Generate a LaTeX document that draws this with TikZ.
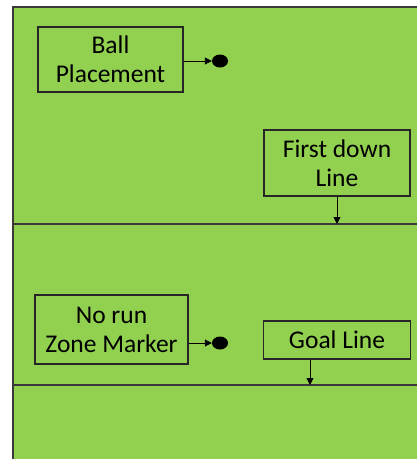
\documentclass[tikz,border=0pt]{standalone}
\usepackage{fontspec}
\setmainfont{Carlito}
\usetikzlibrary{arrows.meta,shapes.geometric}
\definecolor{turf}{HTML}{92D050}
\definecolor{edge}{HTML}{3A3A3A}
\begin{document}
\begin{tikzpicture}[x=1pt,y=-1pt,
  label box/.style={draw=black!85,line width=1.2pt,fill=turf,inner sep=0pt,
    align=center,font=\fontsize{25.5}{29}\selectfont,text=black},
  pointer/.style={draw=black,line width=0.9pt,-{Triangle[length=7pt,width=7pt]}},
  marker/.style={ellipse,fill=black,minimum width=16pt,minimum height=13pt,inner sep=0pt},
  field line/.style={draw=edge,line width=1.1pt}]
\useasboundingbox (0,0) rectangle (417,459);
% playing field
\fill[turf] (13,7) rectangle (417,459);
\draw[field line] (417,7) -- (13,7) -- (13,459);
\coordinate (fdL) at (13,224);
\coordinate (fdR) at (417,224);
\coordinate (glL) at (13,385);
\coordinate (glR) at (417,385);
\draw[field line] (fdL) -- (fdR);
\draw[field line] (glL) -- (glR);
% labels
\node[label box,minimum width=145pt,minimum height=65pt] (ball) at (110.5,59.5) {Ball\\Placement};
\node[label box,minimum width=146pt,minimum height=66pt] (first) at (337,163) {First down\\Line};
\node[label box,minimum width=153pt,minimum height=69pt] (norun) at (111.5,329.5) {No run\\Zone Marker};
\node[label box,minimum width=147pt,minimum height=38pt] (goal) at (337,340) {Goal Line};
% markers
\node[marker] (ballDot) at (220,61) {};
\node[marker] (norunDot) at (220,343) {};
% pointers
\draw[pointer] (ball.east |- ballDot) -- (ballDot.west);
\draw[pointer] (norun.east |- norunDot) -- (norunDot.west);
\draw[pointer] (first.south) -- (first.south |- fdL);
\coordinate (goalFoot) at (310,385);
\draw[pointer] (goal.south -| goalFoot) -- (goalFoot);
\end{tikzpicture}
\end{document}
